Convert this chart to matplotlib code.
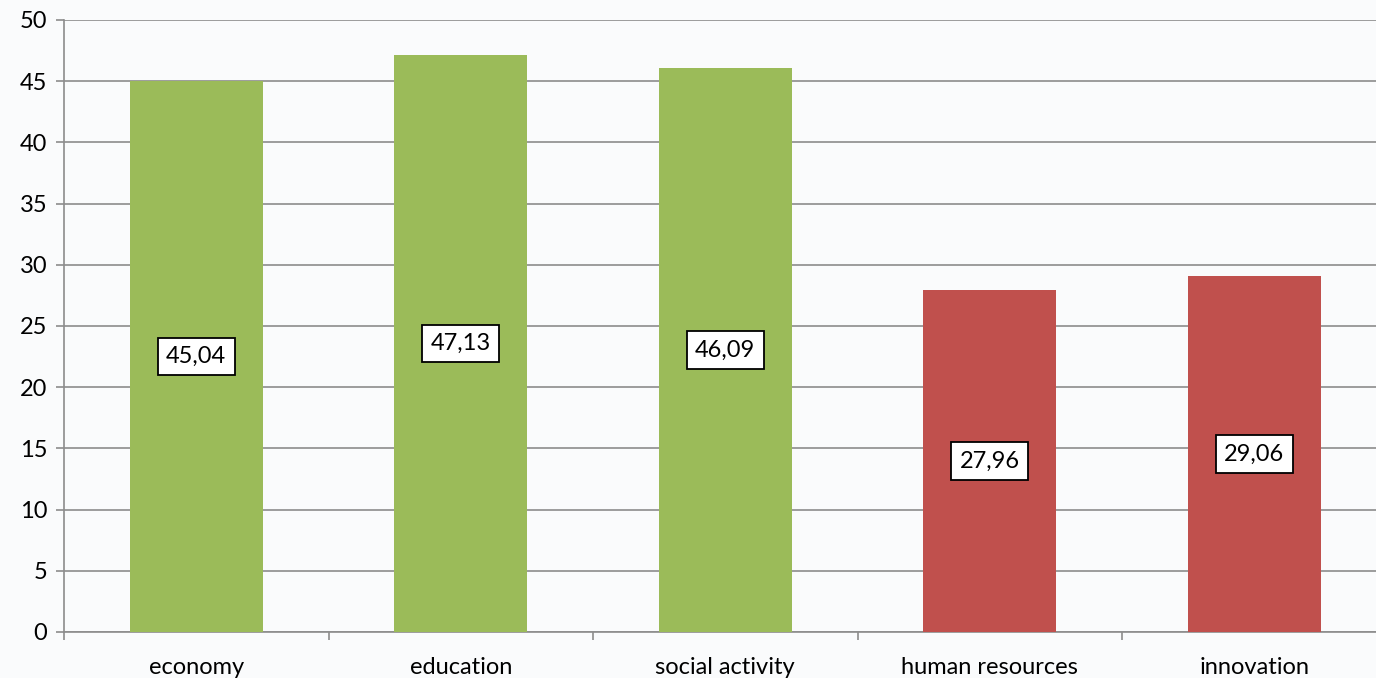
import matplotlib
matplotlib.use("Agg")
from matplotlib import pyplot as plt

categories = ["economy", "education", "social activity", "human resources", "innovation"]
values = [45.04, 47.13, 46.09, 27.96, 29.06]
labels = ["45,04", "47,13", "46,09", "27,96", "29,06"]
colors = ["#9BBB59", "#9BBB59", "#9BBB59", "#C0504D", "#C0504D"]

plt.rcParams['font.family'] = ['Lato', 'DejaVu Sans']

fig = plt.figure(figsize=(13.76, 6.78), dpi=100)
fig.patch.set_facecolor("#fafbfc")
# plot area runs slightly past the right edge of the figure, as in the original
ax = fig.add_axes([64 / 1376, 46 / 678, 1322.5 / 1376, (632 - 20) / 678])
ax.set_facecolor("none")

x = range(len(categories))
ax.bar(x, values, width=0.503, color=colors, zorder=3)

for i, v in enumerate(values):
    ax.text(i, v / 2, labels[i], ha="center", va="center", fontsize=17, zorder=4,
            bbox=dict(boxstyle="square,pad=0.35", facecolor="white", edgecolor="black", linewidth=1.3))

ax.set_xlim(-0.5, len(categories) - 0.5)
ax.set_ylim(0, 50)
ax.set_yticks(range(0, 51, 5))
ax.yaxis.grid(True, color="#8c8c8c", linewidth=1.2, zorder=0)

# category labels centred, tick marks on boundaries
ax.set_xticks([i - 0.5 for i in range(len(categories) + 1)])
ax.set_xticklabels([])
ax.set_xticks(list(x), minor=True)
ax.set_xticklabels(categories, minor=True, fontsize=17)
ax.tick_params(axis="x", which="minor", length=0, pad=18)
ax.tick_params(axis="x", which="major", length=6, color="#8c8c8c", width=1.2)
ax.tick_params(axis="y", length=6, color="#8c8c8c", width=1.2, labelsize=17, pad=6)

for s in ["top", "right"]:
    ax.spines[s].set_visible(False)
for s in ["left", "bottom"]:
    ax.spines[s].set_color("#8c8c8c")
    ax.spines[s].set_linewidth(1.2)

fig.savefig("out.png", dpi=100, facecolor=fig.get_facecolor())
